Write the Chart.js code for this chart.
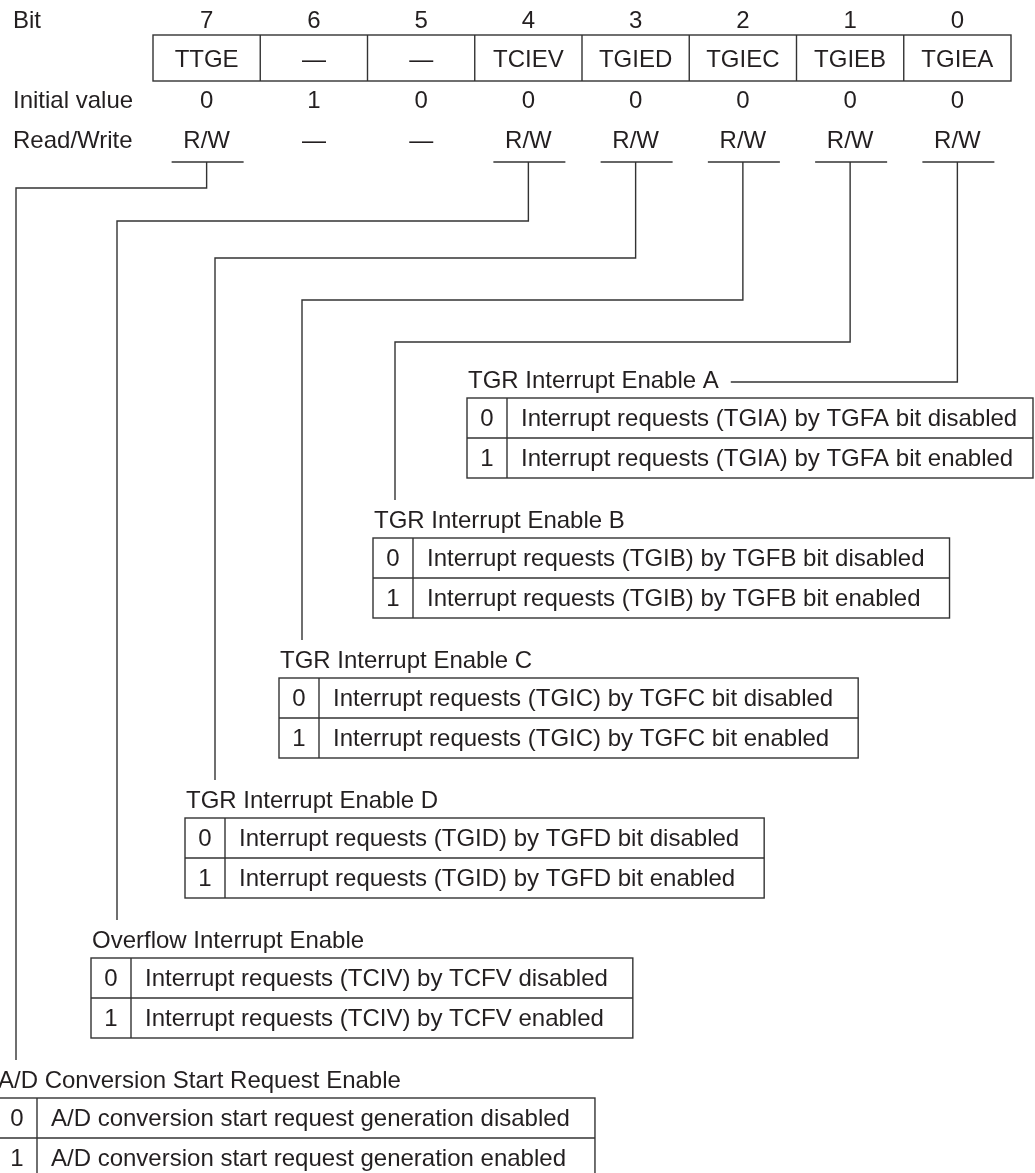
<!DOCTYPE html>
<html>
<head>
<meta charset="utf-8">
<title>TIER register</title>
<script src="https://cdn.jsdelivr.net/npm/chart.js@4.4.1/dist/chart.umd.min.js"></script>
<style>
  html, body { margin: 0; padding: 0; background: #fff; }
  canvas { display: block; }
</style>
</head>
<body>
<canvas id="registerChart" width="1035" height="1173"></canvas>
<script>
// register bits, left to right
const bits = [7, 6, 5, 4, 3, 2, 1, 0];
const bitNames = ["TTGE", "—", "—", "TCIEV", "TGIED", "TGIEC", "TGIEB", "TGIEA"];
const initialValues = ["0", "1", "0", "0", "0", "0", "0", "0"];
const readWrite = ["R/W", "—", "—", "R/W", "R/W", "R/W", "R/W", "R/W"];
const rowLabels = ["Bit", "Initial value", "Read/Write"];

// bit description tables, top to bottom
const fieldBits = [0, 1, 2, 3, 4, 7];
const fieldTitles = [
  "TGR Interrupt Enable A",
  "TGR Interrupt Enable B",
  "TGR Interrupt Enable C",
  "TGR Interrupt Enable D",
  "Overflow Interrupt Enable",
  "A/D Conversion Start Request Enable",
];
const settingValues = ["0", "1"];
const offTexts = [
  "Interrupt requests (TGIA) by TGFA bit disabled",
  "Interrupt requests (TGIB) by TGFB bit disabled",
  "Interrupt requests (TGIC) by TGFC bit disabled",
  "Interrupt requests (TGID) by TGFD bit disabled",
  "Interrupt requests (TCIV) by TCFV disabled",
  "A/D conversion start request generation disabled",
];
const onTexts = [
  "Interrupt requests (TGIA) by TGFA bit enabled",
  "Interrupt requests (TGIB) by TGFB bit enabled",
  "Interrupt requests (TGIC) by TGFC bit enabled",
  "Interrupt requests (TGID) by TGFD bit enabled",
  "Interrupt requests (TCIV) by TCFV enabled",
  "A/D conversion start request generation enabled",
];

// layout (in scale units = pixels of the 1035x1173 page)
const W = 1035;
const H = 1173;
const layout = {
  boxLeft: 153,
  colWidth: 107.25,
  boxTop: 35,
  boxBottom: 81,
  bitBase: 28,
  nameBase: 67,
  initBase: 108,
  rwBase: 148,
  underY: 162,
  underHalf: 36,
  tableTop0: 398,
  tableStep: 140,
  tableLeft0: 467,
  tableShift: 94,
  rowH: 40,
  valueCol: 40,
  textPad: 14,
  rightPad: 25,
  turnY: [382, 342, 300, 258, 221, 188],
  leadX: [null, 395, 302, 215, 117, 16],
};

const FONT = "24px 'Liberation Sans', Arial, Helvetica, sans-serif";
const INK = "#231f20";
const LINE = "#333333";

const diagramPlugin = {
  id: "registerDiagram",
  afterDraw(chart) {
    const ctx = chart.ctx;
    const px = (v) => chart.scales.x.getPixelForValue(v);
    const py = (v) => chart.scales.y.getPixelForValue(v);
    const colCenter = (i) => layout.boxLeft + (i + 0.5) * layout.colWidth;

    ctx.save();
    ctx.font = FONT;
    ctx.fillStyle = INK;
    ctx.strokeStyle = LINE;
    ctx.lineWidth = 1.4;
    ctx.textBaseline = "alphabetic";

    const line = (pts) => {
      ctx.beginPath();
      ctx.moveTo(px(pts[0][0]), py(pts[0][1]));
      for (let i = 1; i < pts.length; i++) ctx.lineTo(px(pts[i][0]), py(pts[i][1]));
      ctx.stroke();
    };

    // row labels
    ctx.textAlign = "left";
    const bases = [layout.bitBase, layout.initBase, layout.rwBase];
    rowLabels.forEach((t, i) => ctx.fillText(t, px(13), py(bases[i])));

    // register box
    const boxRight = layout.boxLeft + bits.length * layout.colWidth;
    ctx.strokeRect(
      px(layout.boxLeft), py(layout.boxTop),
      px(boxRight) - px(layout.boxLeft), py(layout.boxBottom) - py(layout.boxTop)
    );
    for (let i = 1; i < bits.length; i++) {
      const x = layout.boxLeft + i * layout.colWidth;
      line([[x, layout.boxTop], [x, layout.boxBottom]]);
    }

    // columns
    ctx.textAlign = "center";
    bits.forEach((b, i) => {
      const cx = colCenter(i);
      ctx.fillText(String(b), px(cx), py(layout.bitBase));
      ctx.fillText(bitNames[i], px(cx), py(layout.nameBase));
      ctx.fillText(initialValues[i], px(cx), py(layout.initBase));
      ctx.fillText(readWrite[i], px(cx), py(layout.rwBase));
      if (readWrite[i] !== "—") {
        line([[cx - layout.underHalf + 1, layout.underY], [cx + layout.underHalf + 1, layout.underY]]);
      }
    });

    // description tables
    fieldBits.forEach((bit, k) => {
      const top = layout.tableTop0 + k * layout.tableStep;
      const left = layout.tableLeft0 - k * layout.tableShift;
      const textX = left + layout.valueCol + layout.textPad;
      const textW = Math.max(ctx.measureText(offTexts[k]).width, ctx.measureText(onTexts[k]).width);
      const right = Math.min(textX + textW + layout.rightPad, W - 2);
      const bottom = top + 2 * layout.rowH;

      ctx.textAlign = "left";
      ctx.fillText(fieldTitles[k], px(left + 1), py(top - 10));
      const titleEnd = left + 1 + ctx.measureText(fieldTitles[k]).width;

      ctx.strokeRect(px(left), py(top), px(right) - px(left), py(bottom) - py(top));
      line([[left, top + layout.rowH], [right, top + layout.rowH]]);
      line([[left + layout.valueCol, top], [left + layout.valueCol, bottom]]);

      [offTexts[k], onTexts[k]].forEach((t, r) => {
        const base = top + r * layout.rowH + 28;
        ctx.textAlign = "center";
        ctx.fillText(settingValues[r], px(left + layout.valueCol / 2), py(base));
        ctx.textAlign = "left";
        ctx.fillText(t, px(textX), py(base));
      });

      // connector from the bit's R/W underline
      const cx = colCenter(bits.indexOf(bit));
      const ty = layout.turnY[k];
      if (k === 0) {
        line([[cx, layout.underY], [cx, ty], [titleEnd + 12, ty]]);
      } else {
        const lx = layout.leadX[k];
        line([[cx, layout.underY], [cx, ty], [lx, ty], [lx, top - 38]]);
      }
    });

    ctx.restore();
  },
};

const chart = new Chart(document.getElementById("registerChart"), {
  type: "scatter",
  data: { datasets: [{ data: [] }] },
  options: {
    responsive: false,
    animation: false,
    events: [],
    devicePixelRatio: 1,
    layout: { padding: 0 },
    plugins: { legend: { display: false }, tooltip: { enabled: false } },
    scales: {
      x: { type: "linear", display: false, min: 0, max: W },
      y: { type: "linear", display: false, min: 0, max: H, reverse: true },
    },
  },
  plugins: [diagramPlugin],
});
</script>
</body>
</html>
